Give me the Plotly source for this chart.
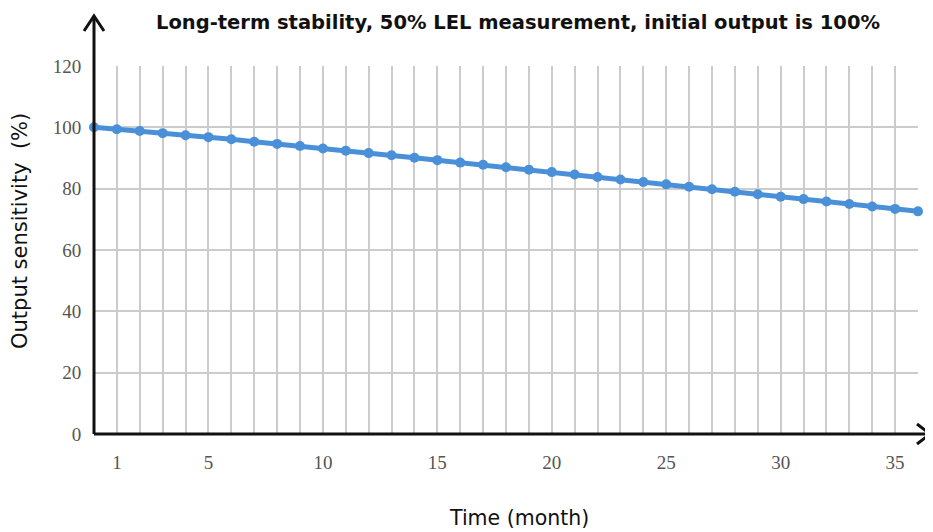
import plotly.graph_objects as go

months = list(range(0, 37))
sensitivity = [100.0, 99.4, 98.8, 98.1, 97.4, 96.8, 96.1, 95.3, 94.6, 93.9,
               93.1, 92.4, 91.6, 90.9, 90.1, 89.3, 88.5, 87.8, 87.0, 86.2,
               85.4, 84.6, 83.8, 83.0, 82.2, 81.4, 80.6, 79.8, 79.0, 78.2,
               77.4, 76.6, 75.8, 75.0, 74.2, 73.4, 72.6]
x_labels = {1: "1", 5: "5", 10: "10", 15: "15", 20: "20", 25: "25", 30: "30", 35: "35"}
y_ticks = [0, 20, 40, 60, 80, 100, 120]

OFF = 8  # browser body margin
W, H = 933 - OFF, 532 - OFF
# page pixel geometry of plot area
P_LEFT, P_RIGHT, P_TOP, P_BOTTOM = 94, 918, 66, 434
L = P_LEFT - OFF
R = W - (P_RIGHT - OFF)
T = P_TOP - OFF
B = H - (P_BOTTOM - OFF)
pw, ph = P_RIGHT - P_LEFT, P_BOTTOM - P_TOP


def px(xp):
    return (xp - P_LEFT) / pw


def py(yp):
    return (P_BOTTOM - yp) / ph


fig = go.Figure()
fig.add_trace(go.Scatter(
    x=months, y=sensitivity, mode="lines+markers",
    line=dict(color="#4a90d9", width=5),
    marker=dict(color="#4a90d9", size=10),
    cliponaxis=False, showlegend=False,
))

axis_col = "#111111"
shapes = [
    dict(type="line", xref="paper", yref="paper", x0=0, y0=0, x1=0, y1=py(16),
         line=dict(color=axis_col, width=3)),
    dict(type="path", xref="paper", yref="paper",
         path=f"M {px(84)},{py(31)} L {px(94)},{py(16)} L {px(104)},{py(31)}",
         line=dict(color=axis_col, width=3)),
    dict(type="line", xref="paper", yref="paper", x0=0, y0=0, x1=px(930), y1=0,
         line=dict(color=axis_col, width=3)),
    dict(type="path", xref="paper", yref="paper",
         path=f"M {px(917)},{py(424)} L {px(930)},{py(434)} L {px(917)},{py(444)}",
         line=dict(color=axis_col, width=3)),
]

annotations = [
    dict(text="Time (month)", xref="paper", yref="paper", x=px(519), y=py(518),
         xanchor="center", yanchor="middle", showarrow=False,
         font=dict(family="DejaVu Sans", size=20.5, color="#111111")),
    dict(text="Output sensitivity  (%)", xref="paper", yref="paper", x=px(20), y=py(231),
         xanchor="center", yanchor="middle", showarrow=False, textangle=-90,
         font=dict(family="DejaVu Sans", size=21, color="#111111")),
]

fig.update_layout(
    width=W, height=H,
    margin=dict(l=L, r=R, t=T, b=B),
    plot_bgcolor="white", paper_bgcolor="white",
    shapes=shapes,
    annotations=annotations,
    title=dict(text="<b>Long-term stability, 50% LEL measurement, initial output is 100%</b>",
               x=(518 - OFF) / W, xanchor="center", y=1 - (22 - OFF) / H, yanchor="middle",
               font=dict(family="DejaVu Sans", size=19.5, color="#111111")),
    xaxis=dict(
        range=[0, 36],
        tickvals=months,
        ticktext=[x_labels.get(m, "") for m in months],
        showgrid=True, gridcolor="#cccccc", gridwidth=2,
        zeroline=False, showline=False,
        ticks="outside", ticklen=11, tickcolor="rgba(0,0,0,0)",
        tickfont=dict(family="Liberation Serif", size=19, color="#555555"),
    ),
    yaxis=dict(
        range=[0, 120],
        tickvals=y_ticks,
        showgrid=True, gridcolor="#cccccc", gridwidth=2,
        zeroline=False, showline=False,
        ticks="outside", ticklen=8, tickcolor="rgba(0,0,0,0)",
        tickfont=dict(family="Liberation Serif", size=19, color="#555555"),
    ),
)

fig.write_html("out.html")
